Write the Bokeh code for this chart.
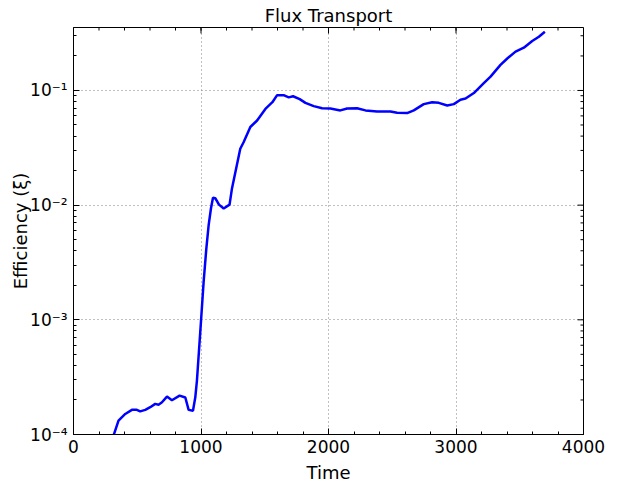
import math
from bokeh.plotting import figure
from bokeh.models import Range1d, FixedTicker
from bokeh.embed import file_html
from bokeh.resources import INLINE

time = [300, 353, 406, 458, 497, 523, 563, 602, 641, 667, 694, 733, 772, 832, 877,
        903, 937, 955, 968, 1000, 1021, 1042, 1060, 1078, 1094, 1112, 1141, 1178,
        1224, 1243, 1308, 1335, 1387, 1440, 1505, 1560, 1597, 1648, 1688, 1722,
        1774, 1819, 1884, 1950, 2015, 2093, 2146, 2224, 2290, 2381, 2486, 2538,
        2617, 2669, 2747, 2813, 2865, 2931, 2983, 3035, 3075, 3140, 3218, 3271,
        3349, 3402, 3467, 3532, 3598, 3650, 3697]
efficiency = [8.8e-5, 1.32e-4, 1.51e-4, 1.64e-4, 1.64e-4, 1.59e-4, 1.64e-4, 1.73e-4,
              1.85e-4, 1.82e-4, 1.91e-4, 2.14e-4, 1.99e-4, 2.18e-4, 2.10e-4,
              1.64e-4, 1.61e-4, 2.10e-4, 2.94e-4, 9.75e-4, 2.17e-3, 4.2e-3, 6.7e-3,
              9.35e-3, 1.16e-2, 1.15e-2, 1.01e-2, 9.35e-3, 1.01e-2, 1.40e-2, 3.1e-2,
              3.55e-2, 4.8e-2, 5.47e-2, 6.9e-2, 7.9e-2, 9.1e-2, 9.1e-2, 8.7e-2,
              8.9e-2, 8.4e-2, 7.8e-2, 7.3e-2, 7.0e-2, 6.95e-2, 6.7e-2, 6.95e-2,
              7.0e-2, 6.7e-2, 6.55e-2, 6.55e-2, 6.4e-2, 6.35e-2, 6.7e-2, 7.6e-2,
              7.9e-2, 7.8e-2, 7.4e-2, 7.6e-2, 8.3e-2, 8.5e-2, 9.5e-2, 0.116, 0.132,
              0.167, 0.19, 0.218, 0.236, 0.27, 0.294, 0.325]

x_min, x_max = 0, 4000
x_ticks = [0, 1000, 2000, 3000, 4000]
x_minor = [v for v in range(0, 4001, 200)]
y_ticks = [1e-4, 1e-3, 1e-2, 1e-1]
y_tick_labels = ["10⁻⁴", "10⁻³", "10⁻²", "10⁻¹"]
y_min, y_max = 1e-4, 0.354
y_minor = [m * d for d in y_ticks for m in range(2, 10) if m * d <= y_max]

FONT = "DejaVu Sans"

p = figure(width=620, height=487, y_axis_type="log",
           x_range=Range1d(x_min, x_max), y_range=Range1d(y_min, y_max),
           output_backend="svg", toolbar_location=None,
           title="Flux Transport",
           min_border_left=73, min_border_right=37,
           min_border_top=26, min_border_bottom=53)

p.title.align = "center"
p.title.text_font = FONT
p.title.text_font_size = "18px"
p.title.text_font_style = "normal"
p.title.text_color = "black"
p.title.standoff = 4

xt = FixedTicker(ticks=x_ticks, minor_ticks=x_minor)
yt = FixedTicker(ticks=y_ticks, minor_ticks=y_minor)

p.xaxis.ticker = xt
p.yaxis.ticker = yt
p.yaxis.major_label_overrides = dict(zip(y_ticks, y_tick_labels))

p.xaxis.axis_label = "Time"
p.yaxis.axis_label = "Efficiency (ξ)"

for ax in (p.xaxis[0], p.yaxis[0]):
    ax.axis_label_text_font = FONT
    ax.axis_label_text_font_size = "18px"
    ax.axis_label_text_font_style = "normal"
    ax.axis_label_text_color = "black"
    ax.axis_label_text_line_height = 1.0
    ax.major_label_text_font = FONT
    ax.major_label_text_font_size = "17px"
    ax.major_label_text_color = "black"
    ax.major_label_text_line_height = 1.0
    ax.major_tick_in = 6
    ax.major_tick_out = 0
    ax.minor_tick_in = 3
    ax.minor_tick_out = 0
    ax.axis_line_color = "black"
    ax.major_tick_line_color = "black"
    ax.minor_tick_line_color = "black"

p.xaxis.major_label_standoff = 5
p.xaxis.axis_label_standoff = 6
p.yaxis.major_label_standoff = 6
p.yaxis.axis_label_standoff = -4

# tick marks on the top and right frame edges (matplotlib classic style)
tick_kw = dict(line_color="black", line_width=1, length_units="screen")
p.ray(x=x_ticks, y=[y_max] * len(x_ticks), length=6, angle=-math.pi / 2, **tick_kw)
p.ray(x=x_minor, y=[y_max] * len(x_minor), length=3, angle=-math.pi / 2, **tick_kw)
p.ray(x=[x_max] * len(y_ticks), y=y_ticks, length=6, angle=math.pi, **tick_kw)
p.ray(x=[x_max] * len(y_minor), y=y_minor, length=3, angle=math.pi, **tick_kw)

p.xgrid.ticker = xt
p.ygrid.ticker = yt
for g in (p.xgrid[0], p.ygrid[0]):
    g.grid_line_color = "#808080"
    g.grid_line_dash = "1 3"
    g.grid_line_width = 1

p.outline_line_color = "black"
p.background_fill_color = "white"
p.border_fill_color = "white"

p.line(time, efficiency, line_color="#0000ff", line_width=2.5)

open("out.html", "w").write(file_html(p, INLINE))
